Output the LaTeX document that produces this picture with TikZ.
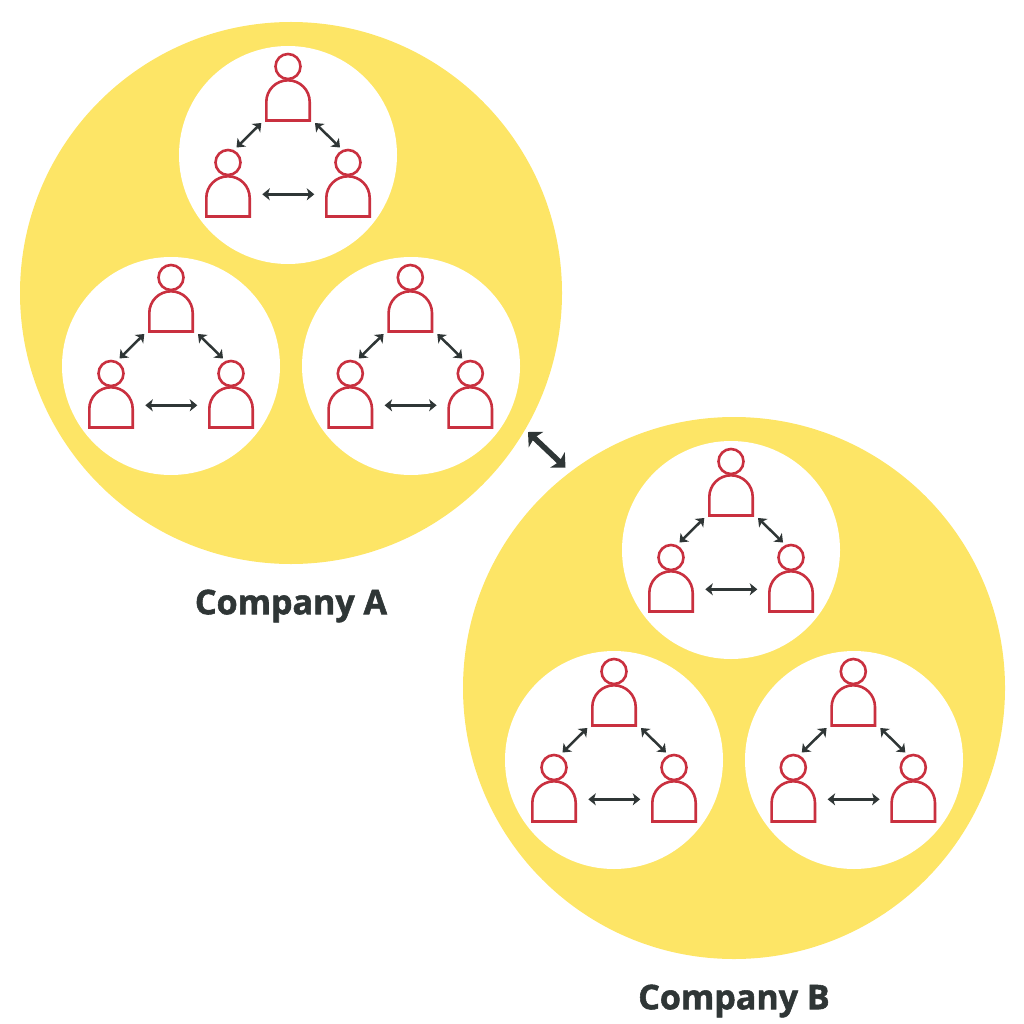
\documentclass[tikz,border=0pt]{standalone}
\usepackage{fontspec}
\setmainfont{Open Sans}[BoldFeatures={FakeBold=1.6}]
\usetikzlibrary{arrows.meta}
\definecolor{sun}{HTML}{FDE566}
\definecolor{redline}{HTML}{C9303F}
\definecolor{ink}{HTML}{2F3636}
\tikzset{
  x=1pt,y=-1pt,
  bigdisc/.style={circle,fill=sun,minimum size=542pt,inner sep=0pt,outer sep=0pt},
  smalldisc/.style={circle,fill=white,minimum size=218pt,inner sep=0pt,outer sep=0pt},
  headshape/.style={circle,draw=redline,line width=2.6pt,fill=white,minimum size=25pt,inner sep=0pt},
  bodyline/.style={draw=redline,line width=2.6pt,fill=white,line join=miter},
  linkarrow/.style={draw=ink,line width=2.5pt,{Stealth[length=7.5pt,width=12pt,inset=2pt]}-{Stealth[length=7.5pt,width=12pt,inset=2pt]}},
  bigarrow/.style={draw=ink,line width=5.5pt,{Stealth[length=11pt,width=21pt,inset=2.5pt]}-{Stealth[length=11pt,width=21pt,inset=2.5pt]}},
  title/.style={font=\bfseries\fontsize{34}{40}\selectfont,text=ink,inner sep=0pt},
  person/.pic={
    \path[bodyline] (-21.7,-1.5) -- (-21.7,-20) arc[start angle=180,end angle=360,radius=21.7] -- (21.7,-1.5) -- cycle;
    \node[headshape] at (0,-55.5) {};
  },
  trio/.pic={
    \coordinate (-c) at (0,0);
    \path (0,-33) pic {person};
    \path (-60,63) pic {person};
    \path (60,63) pic {person};
    \coordinate (-a) at (-51.5,-7.5);
    \coordinate (-b) at (-26.7,-32);
    \coordinate (-d) at (27,-32);
    \coordinate (-e) at (52,-7.5);
    \coordinate (-f) at (-25.7,39.3);
    \coordinate (-g) at (26.3,39.3);
    \draw[linkarrow] (-a) -- (-b);
    \draw[linkarrow] (-d) -- (-e);
    \draw[linkarrow] (-f) -- (-g);
  }
}
\begin{document}
\begin{tikzpicture}
\useasboundingbox (0,0) rectangle (1024,1024);
\node[bigdisc] (compA) at (291,293) {};
\node[bigdisc] (compB) at (734,688) {};
\foreach \n/\x/\y/\px in {a1/288/155/288,a2/171/366/171,a3/411/366/410.3,b1/731/550/731,b2/614/760/614,b3/854/760/853.3}{
  \node[smalldisc] (\n) at (\x,\y) {};
  \path (\px,\y) pic (t\n) {trio};
}
\coordinate (linkA) at (528,432);
\coordinate (linkB) at (565.5,467.5);
\draw[bigarrow] (linkA) -- (linkB);
\node[title] (labA) at (291,606) {Company A};
\node[title] (labB) at (734,1001) {Company B};
\end{tikzpicture}
\end{document}
